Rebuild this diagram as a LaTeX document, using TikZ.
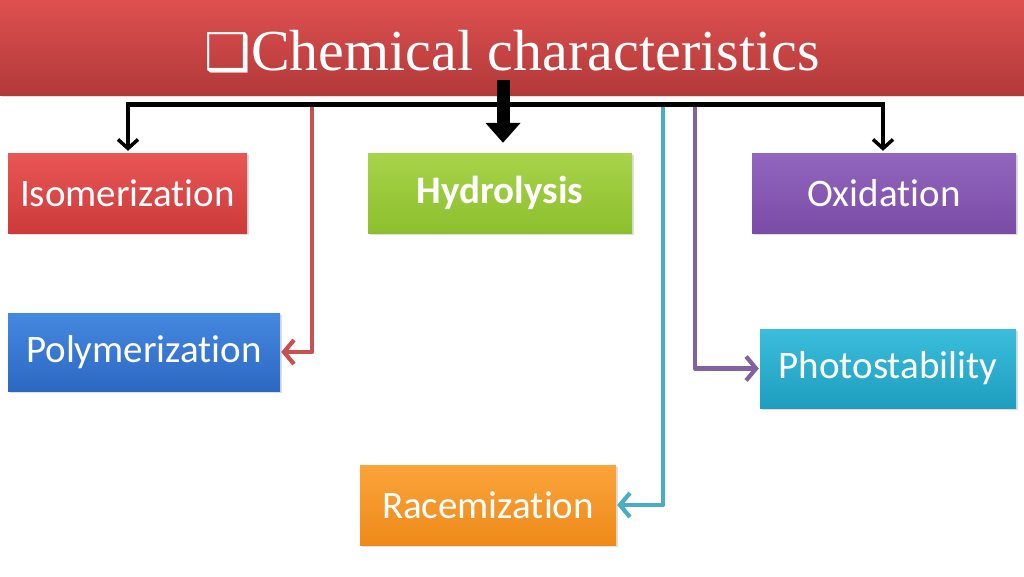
\documentclass[tikz,border=0pt]{standalone}
\usepackage{fontspec}
\setmainfont[Ligatures=NoCommon]{Carlito}
\newfontfamily\titlefont{Liberation Serif}
\newfontfamily\symfont{DejaVu Sans}
\usetikzlibrary{arrows.meta,shadows}
\definecolor{tred}{HTML}{D24343}
\definecolor{tredtop}{HTML}{DE5050}
\definecolor{isotop}{HTML}{E85656}
\definecolor{isobot}{HTML}{CC3A3A}
\definecolor{hydtop}{HTML}{A8D44A}
\definecolor{hydbot}{HTML}{8CBF2E}
\definecolor{oxtop}{HTML}{9366BE}
\definecolor{oxbot}{HTML}{7A4CA6}
\definecolor{poltop}{HTML}{4588DF}
\definecolor{polbot}{HTML}{2C68C2}
\definecolor{phtop}{HTML}{3BBDDC}
\definecolor{phbot}{HTML}{1E9EBE}
\definecolor{ractop}{HTML}{FBA43A}
\definecolor{racbot}{HTML}{EE8A1A}
\definecolor{lred}{HTML}{C9504F}
\definecolor{lcyan}{HTML}{4AADC6}
\definecolor{lpurple}{HTML}{8064A2}
\tikzset{
  box/.style={rectangle, inner sep=0pt, text=white, font=\fontsize{39}{44}\selectfont,
    drop shadow={opacity=0.25, shadow xshift=1.5pt, shadow yshift=-2pt}},
  link/.style={line width=4.2pt, line join=round, -{Straight Barb[length=10pt,width=24pt,line width=4.2pt]}},
  blk/.style={line width=4pt, black, -{Straight Barb[length=9pt,width=20pt,line width=3.5pt]}},
}
\begin{document}
\begin{tikzpicture}[x=1pt,y=-1pt]
\useasboundingbox (0,0) rectangle (1024,576);
\fill[white] (0,0) rectangle (1024,576);
\node[box, minimum width=1024pt, minimum height=95pt, top color=tredtop, bottom color=tred!85!black] (title) at (512,47.5) {};
\node[text=white, inner sep=0pt, anchor=base] (ttext) at (512,70) {{\symfont\fontsize{52}{56}\selectfont ❑}{\titlefont\fontsize{58}{62}\selectfont Chemical characteristics}};
\node[box, minimum width=239pt, minimum height=80pt, top color=isotop, bottom color=isobot] (iso) at (127.5,193) {Isomerization};
\node[box, minimum width=264pt, minimum height=80pt, top color=hydtop, bottom color=hydbot, font=\fontsize{39}{44}\selectfont\bfseries] (hyd) at (500,193) {Hydrolysis};
\node[box, minimum width=264pt, minimum height=80pt, top color=oxtop, bottom color=oxbot] (ox) at (884,193) {Oxidation};
\node[box, minimum width=272pt, minimum height=78pt, top color=poltop, bottom color=polbot] (poly) at (144,352) {Polymerization};
\node[box, minimum width=256pt, minimum height=79pt, top color=phtop, bottom color=phbot] (photo) at (888,368.5) {Photostability};
\node[box, minimum width=256pt, minimum height=80pt, top color=ractop, bottom color=racbot] (race) at (488,505) {Racemization};
\coordinate (jL) at (128,104);
\coordinate (jR) at (883,104);
\coordinate (jRed) at (312,104);
\coordinate (jCy) at (663,104);
\coordinate (jPu) at (695,104);
\coordinate (tA) at (503,80);
\draw[lred, link, shorten >=1pt] (jRed) |- (poly.east);
\draw[lcyan, link, shorten >=1pt] (jCy) |- (race.east);
\draw[lpurple, link, shorten >=1pt] (jPu) |- (photo.west);
\draw[line width=5pt, black, line cap=butt] ([xshift=-2pt]jL) -- ([xshift=2pt]jR);
\draw[blk, shorten >=2pt] (jL) -- (jL |- iso.north);
\draw[blk, shorten >=2pt] (jR) -- (jR |- ox.north);
\draw[line width=13pt, black, -{Triangle[length=20pt,width=34pt]}, shorten >=10pt] (tA) -- (tA |- hyd.north);
\end{tikzpicture}
\end{document}
